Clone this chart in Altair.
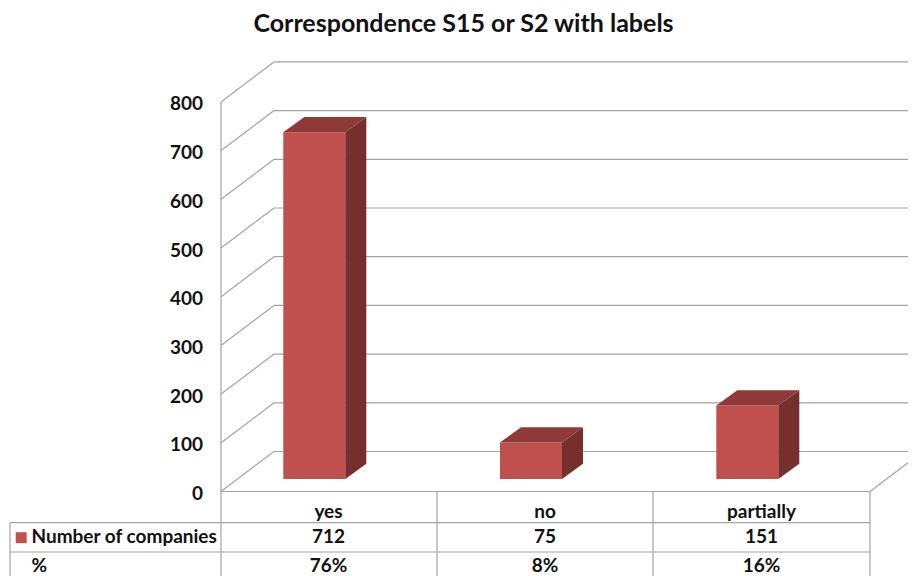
import altair as alt
import pandas as pd

TITLE = "Correspondence S15 or S2 with labels"
CATEGORIES = ["yes", "no", "partially"]
COMPANIES = [712, 75, 151]
PERCENT = ["76%", "8%", "16%"]
ROW_NAMES = ["Number of companies", "%"]
TICKS = [0, 100, 200, 300, 400, 500, 600, 700, 800]

# layout helpers: screen pixel -> scale units
PX = 0.487
ZERO = 491.5
def val(screen_y):
    return (ZERO - screen_y) / PX
def units(px):
    return px / PX

FONT = "Lato"
INK = "#111111"
GRID = "#a4a4a4"
FRONT, TOP, SIDE = "#c0504d", "#8e3a38", "#772f2d"
FS = 19

xs = alt.Scale(domain=[8, 908], range=[0, 900], nice=False, zero=False)
ys = alt.Scale(domain=[val(576), val(8)], range=[568, 0], nice=False, zero=False)
LEFT = 221
y_axis = alt.Axis(
    values=TICKS, offset=-(LEFT - 8), domain=False, ticks=False, grid=False, title=None,
    labelFont=FONT, labelFontSize=FS, labelFontWeight="bold", labelColor=INK,
    labelPadding=18.5, labelAlign="right", labelOffset=2, format="d")
X = lambda f: alt.X(f, type="quantitative", scale=xs, axis=None)
Y = lambda f: alt.Y(f, type="quantitative", scale=ys, axis=y_axis)

# 3-D geometry
WALL_DX, WALL_DY = 53, units(40)
BAR_LEFT = [283.3, 500, 716.3]
BAR_W, BAR_DX, BAR_DY = 62, 21, units(15.3)
BASE = val(479)

# grid
rows = []
for t in TICKS:
    rows.append(dict(x=LEFT, x2=LEFT + WALL_DX, y=t, y2=t + WALL_DY))
    rows.append(dict(x=LEFT + WALL_DX, x2=908, y=t + WALL_DY, y2=t + WALL_DY))
# left wall edge, floor edge, right floor diagonal
rows.append(dict(x=LEFT, x2=LEFT, y=800, y2=val(576)))
rows.append(dict(x=LEFT, x2=870, y=0, y2=0))
rows.append(dict(x=870, x2=908, y=0, y2=units(38 * 40 / 53)))
# table
for sy in [522.7, 552]:
    rows.append(dict(x=10, x2=870, y=val(sy), y2=val(sy)))
for sx in [437, 653, 870]:
    rows.append(dict(x=sx, x2=sx, y=0, y2=val(576)))
rows.append(dict(x=10, x2=10, y=val(522.7), y2=val(576)))
lines = pd.DataFrame(rows)

grid = alt.Chart(lines).mark_rule(color=GRID, strokeWidth=1.2).encode(
    x=X("x"), x2="x2", y=Y("y"), y2="y2")

# bars
front = pd.DataFrame([
    dict(x=l, x2=l + BAR_W, y=BASE, y2=BASE + v)
    for l, v in zip(BAR_LEFT, COMPANIES)])
bar_front = alt.Chart(front).mark_rect(color=FRONT).encode(
    x=X("x"), x2="x2", y=Y("y"), y2="y2")

side_rows, top_rows = [], []
for c, l, v in zip(CATEGORIES, BAR_LEFT, COMPANIES):
    r = l + BAR_W
    side_rows += [dict(c=c, x=r, lo=BASE, hi=BASE + v),
                  dict(c=c, x=r + BAR_DX, lo=BASE + BAR_DY, hi=BASE + v + BAR_DY)]
    top_rows += [dict(c=c, y=BASE + v, x=l, x2=r),
                 dict(c=c, y=BASE + v + BAR_DY, x=l + BAR_DX, x2=r + BAR_DX)]
bar_side = alt.Chart(pd.DataFrame(side_rows)).mark_area(color=SIDE, orient="vertical").encode(
    x=X("x"), y=Y("hi"), y2="lo", detail="c:N")
bar_top = alt.Chart(pd.DataFrame(top_rows)).mark_area(color=TOP, orient="horizontal").encode(
    y=Y("y"), x=X("x"), x2="x2", detail="c:N")

# table text
CENTERS = [328.5, 545, 761.5]
cells = []
for c, cx, n, p in zip(CATEGORIES, CENTERS, COMPANIES, PERCENT):
    cells += [dict(x=cx, y=val(512), t=c),
              dict(x=cx, y=val(537), t=str(n)),
              dict(x=cx, y=val(566), t=p)]
cell_text = alt.Chart(pd.DataFrame(cells)).mark_text(
    font=FONT, fontSize=FS, fontWeight="bold", color=INK, align="center", baseline="middle"
).encode(x=X("x"), y=Y("y"), text="t:N")

row_df = pd.DataFrame({"x": [31.5, 31.5], "y": [val(537), val(566)], "t": ROW_NAMES})
row_text = alt.Chart(row_df).mark_text(
    font=FONT, fontSize=FS, fontWeight="bold", color=INK, align="left", baseline="middle"
).encode(x=X("x"), y=Y("y"), text="t:N")

swatch = alt.Chart(pd.DataFrame({"x": [21.2], "y": [val(537.7)]})).mark_square(
    color=FRONT, size=120, opacity=1).encode(x=X("x"), y=Y("y"))

chart = alt.layer(grid, bar_front, bar_side, bar_top, cell_text, row_text, swatch).properties(
    width=900, height=568, padding=0,
    autosize=alt.AutoSizeParams(type="none"),
    title=alt.TitleParams(TITLE, anchor="middle", frame="group", offset=0, dx=5.5, dy=29,
                          font=FONT, fontSize=25, fontWeight="bold", color=INK),
).configure_view(stroke=None)

chart.save("out.html", embed_options={"renderer": "svg", "actions": False})
